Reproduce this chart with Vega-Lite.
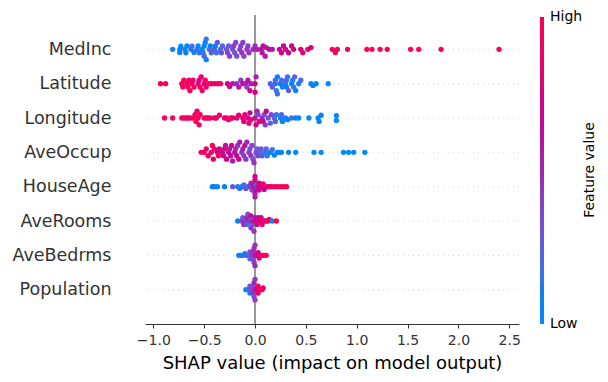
{
"$schema": "https://vega.github.io/schema/vega-lite/v6.json",
"width": 374, "height": 309,
"autosize": {"type": "none"},
"padding": {"left": 145, "top": 15, "right": 89, "bottom": 58},
"background": "white",
"config": {"view": {"stroke": null}, "font": "DejaVu Sans"},
"datasets": {
"features": [
{"feature":"MedInc"},{"feature":"Latitude"},{"feature":"Longitude"},{"feature":"AveOccup"},
{"feature":"HouseAge"},{"feature":"AveRooms"},{"feature":"AveBedrms"},{"feature":"Population"}
],
"pts": [
{"feature":"MedInc","shap":-0.81,"off":0,"val":0.08},
{"feature":"MedInc","shap":-0.74,"off":0,"val":0.05},
{"feature":"MedInc","shap":-0.74,"off":-0.09,"val":0.1},
{"feature":"MedInc","shap":-0.73,"off":0.09,"val":0.02},
{"feature":"MedInc","shap":-0.69,"off":0,"val":0.12},
{"feature":"MedInc","shap":-0.68,"off":-0.1,"val":0.08},
{"feature":"MedInc","shap":-0.67,"off":0.1,"val":0.04},
{"feature":"MedInc","shap":-0.63,"off":0,"val":0.1},
{"feature":"MedInc","shap":-0.62,"off":0.09,"val":0.2},
{"feature":"MedInc","shap":-0.6,"off":-0.09,"val":0.06},
{"feature":"MedInc","shap":-0.57,"off":0,"val":0.15},
{"feature":"MedInc","shap":-0.56,"off":0.1,"val":0.02},
{"feature":"MedInc","shap":-0.55,"off":-0.1,"val":0.18},
{"feature":"MedInc","shap":-0.52,"off":0,"val":0.05},
{"feature":"MedInc","shap":-0.51,"off":-0.1,"val":0.12},
{"feature":"MedInc","shap":-0.5,"off":0.1,"val":0.08},
{"feature":"MedInc","shap":-0.5,"off":-0.2,"val":0.22},
{"feature":"MedInc","shap":-0.49,"off":0.2,"val":0.03},
{"feature":"MedInc","shap":-0.48,"off":-0.3,"val":0.1},
{"feature":"MedInc","shap":-0.48,"off":0.3,"val":0.15},
{"feature":"MedInc","shap":-0.45,"off":0,"val":0.2},
{"feature":"MedInc","shap":-0.44,"off":0.1,"val":0.1},
{"feature":"MedInc","shap":-0.43,"off":-0.1,"val":0.25},
{"feature":"MedInc","shap":-0.4,"off":0,"val":0.3},
{"feature":"MedInc","shap":-0.39,"off":0.1,"val":0.07},
{"feature":"MedInc","shap":-0.38,"off":-0.1,"val":0.14},
{"feature":"MedInc","shap":-0.37,"off":0.2,"val":0.28},
{"feature":"MedInc","shap":-0.34,"off":0,"val":0.18},
{"feature":"MedInc","shap":-0.33,"off":-0.1,"val":0.32},
{"feature":"MedInc","shap":-0.32,"off":0.1,"val":0.22},
{"feature":"MedInc","shap":-0.28,"off":0,"val":0.3},
{"feature":"MedInc","shap":-0.27,"off":-0.1,"val":0.36},
{"feature":"MedInc","shap":-0.26,"off":0.1,"val":0.26},
{"feature":"MedInc","shap":-0.25,"off":-0.2,"val":0.4},
{"feature":"MedInc","shap":-0.22,"off":0,"val":0.35},
{"feature":"MedInc","shap":-0.21,"off":0.1,"val":0.42},
{"feature":"MedInc","shap":-0.2,"off":-0.1,"val":0.3},
{"feature":"MedInc","shap":-0.19,"off":0.2,"val":0.38},
{"feature":"MedInc","shap":-0.18,"off":-0.2,"val":0.33},
{"feature":"MedInc","shap":-0.15,"off":0,"val":0.4},
{"feature":"MedInc","shap":-0.14,"off":0.1,"val":0.36},
{"feature":"MedInc","shap":-0.13,"off":-0.1,"val":0.45},
{"feature":"MedInc","shap":-0.12,"off":0.2,"val":0.42},
{"feature":"MedInc","shap":-0.11,"off":-0.2,"val":0.38},
{"feature":"MedInc","shap":-0.08,"off":0,"val":0.44},
{"feature":"MedInc","shap":-0.07,"off":0.1,"val":0.4},
{"feature":"MedInc","shap":-0.06,"off":-0.1,"val":0.47},
{"feature":"MedInc","shap":-0.02,"off":0,"val":0.5},
{"feature":"MedInc","shap":0.0,"off":0.1,"val":0.45},
{"feature":"MedInc","shap":0.02,"off":0,"val":0.55},
{"feature":"MedInc","shap":0.06,"off":0,"val":0.6},
{"feature":"MedInc","shap":0.07,"off":-0.1,"val":0.58},
{"feature":"MedInc","shap":0.08,"off":0.1,"val":0.62},
{"feature":"MedInc","shap":0.1,"off":-0.2,"val":0.55},
{"feature":"MedInc","shap":0.11,"off":0.05,"val":0.6},
{"feature":"MedInc","shap":0.14,"off":0,"val":0.63},
{"feature":"MedInc","shap":0.17,"off":0,"val":0.58},
{"feature":"MedInc","shap":0.24,"off":0,"val":0.7},
{"feature":"MedInc","shap":0.26,"off":-0.1,"val":0.72},
{"feature":"MedInc","shap":0.28,"off":0.1,"val":0.66},
{"feature":"MedInc","shap":0.3,"off":0,"val":0.74},
{"feature":"MedInc","shap":0.33,"off":-0.1,"val":0.68},
{"feature":"MedInc","shap":0.36,"off":0.1,"val":0.7},
{"feature":"MedInc","shap":0.38,"off":0,"val":0.73},
{"feature":"MedInc","shap":0.45,"off":0,"val":0.78},
{"feature":"MedInc","shap":0.47,"off":-0.1,"val":0.8},
{"feature":"MedInc","shap":0.52,"off":0,"val":0.82},
{"feature":"MedInc","shap":0.55,"off":0.05,"val":0.76},
{"feature":"MedInc","shap":0.76,"off":0,"val":0.9},
{"feature":"MedInc","shap":0.79,"off":-0.09,"val":0.95},
{"feature":"MedInc","shap":0.81,"off":0,"val":0.92},
{"feature":"MedInc","shap":0.91,"off":0,"val":0.93},
{"feature":"MedInc","shap":1.1,"off":0,"val":0.97},
{"feature":"MedInc","shap":1.15,"off":0,"val":0.96},
{"feature":"MedInc","shap":1.23,"off":0,"val":0.98},
{"feature":"MedInc","shap":1.3,"off":0,"val":0.99},
{"feature":"MedInc","shap":1.53,"off":0,"val":0.99},
{"feature":"MedInc","shap":1.61,"off":0,"val":1.0},
{"feature":"MedInc","shap":1.83,"off":0,"val":1.0},
{"feature":"MedInc","shap":2.4,"off":0,"val":1.0},

{"feature":"Latitude","shap":-0.93,"off":0,"val":0.98},
{"feature":"Latitude","shap":-0.88,"off":0,"val":0.95},
{"feature":"Latitude","shap":-0.72,"off":0,"val":0.95},
{"feature":"Latitude","shap":-0.71,"off":-0.1,"val":0.9},
{"feature":"Latitude","shap":-0.7,"off":0.1,"val":0.97},
{"feature":"Latitude","shap":-0.67,"off":0,"val":0.92},
{"feature":"Latitude","shap":-0.66,"off":-0.1,"val":0.99},
{"feature":"Latitude","shap":-0.65,"off":0.1,"val":0.88},
{"feature":"Latitude","shap":-0.64,"off":-0.2,"val":0.94},
{"feature":"Latitude","shap":-0.62,"off":0,"val":0.9},
{"feature":"Latitude","shap":-0.61,"off":0.1,"val":0.85},
{"feature":"Latitude","shap":-0.6,"off":-0.1,"val":0.96},
{"feature":"Latitude","shap":-0.56,"off":0,"val":0.8},
{"feature":"Latitude","shap":-0.55,"off":0.1,"val":0.75},
{"feature":"Latitude","shap":-0.54,"off":-0.1,"val":0.93},
{"feature":"Latitude","shap":-0.53,"off":0.2,"val":0.86},
{"feature":"Latitude","shap":-0.52,"off":-0.2,"val":0.91},
{"feature":"Latitude","shap":-0.5,"off":0,"val":0.78},
{"feature":"Latitude","shap":-0.49,"off":0.1,"val":0.95},
{"feature":"Latitude","shap":-0.48,"off":-0.1,"val":0.88},
{"feature":"Latitude","shap":-0.45,"off":0,"val":0.92},
{"feature":"Latitude","shap":-0.43,"off":0,"val":0.85},
{"feature":"Latitude","shap":-0.4,"off":0,"val":0.9},
{"feature":"Latitude","shap":-0.37,"off":0,"val":0.88},
{"feature":"Latitude","shap":-0.34,"off":0,"val":0.93},
{"feature":"Latitude","shap":-0.27,"off":0,"val":0.75},
{"feature":"Latitude","shap":-0.25,"off":-0.08,"val":0.7},
{"feature":"Latitude","shap":-0.22,"off":0,"val":0.6},
{"feature":"Latitude","shap":-0.18,"off":0,"val":0.45},
{"feature":"Latitude","shap":-0.16,"off":-0.1,"val":0.55},
{"feature":"Latitude","shap":-0.14,"off":0.1,"val":0.4},
{"feature":"Latitude","shap":-0.12,"off":0,"val":0.65},
{"feature":"Latitude","shap":-0.09,"off":0,"val":0.5},
{"feature":"Latitude","shap":-0.08,"off":-0.1,"val":0.42},
{"feature":"Latitude","shap":-0.07,"off":0.1,"val":0.6},
{"feature":"Latitude","shap":-0.05,"off":-0.2,"val":0.75},
{"feature":"Latitude","shap":-0.04,"off":0,"val":0.55},
{"feature":"Latitude","shap":0.0,"off":0,"val":0.7},
{"feature":"Latitude","shap":0.0,"off":-0.25,"val":0.75},
{"feature":"Latitude","shap":0.01,"off":0.2,"val":0.5},
{"feature":"Latitude","shap":0.15,"off":0,"val":0.2},
{"feature":"Latitude","shap":0.17,"off":-0.1,"val":0.3},
{"feature":"Latitude","shap":0.2,"off":0,"val":0.1},
{"feature":"Latitude","shap":0.2,"off":0.1,"val":0.25},
{"feature":"Latitude","shap":0.21,"off":-0.2,"val":0.15},
{"feature":"Latitude","shap":0.22,"off":0.2,"val":0.05},
{"feature":"Latitude","shap":0.22,"off":-0.3,"val":0.18},
{"feature":"Latitude","shap":0.25,"off":0,"val":0.08},
{"feature":"Latitude","shap":0.26,"off":0.1,"val":0.2},
{"feature":"Latitude","shap":0.27,"off":-0.1,"val":0.02},
{"feature":"Latitude","shap":0.3,"off":0,"val":0.12},
{"feature":"Latitude","shap":0.31,"off":0.1,"val":0.22},
{"feature":"Latitude","shap":0.31,"off":-0.1,"val":0.06},
{"feature":"Latitude","shap":0.32,"off":0.2,"val":0.16},
{"feature":"Latitude","shap":0.33,"off":-0.2,"val":0.28},
{"feature":"Latitude","shap":0.36,"off":0,"val":0.1},
{"feature":"Latitude","shap":0.37,"off":0.1,"val":0.04},
{"feature":"Latitude","shap":0.38,"off":-0.1,"val":0.14},
{"feature":"Latitude","shap":0.39,"off":0.2,"val":0.24},
{"feature":"Latitude","shap":0.4,"off":-0.2,"val":0.08},
{"feature":"Latitude","shap":0.43,"off":0,"val":0.12},
{"feature":"Latitude","shap":0.45,"off":0.1,"val":0.18},
{"feature":"Latitude","shap":0.55,"off":0,"val":0.05},
{"feature":"Latitude","shap":0.57,"off":-0.05,"val":0.1},
{"feature":"Latitude","shap":0.6,"off":0,"val":0.02},
{"feature":"Latitude","shap":0.72,"off":0,"val":0.0},

{"feature":"Longitude","shap":-0.89,"off":0,"val":0.97},
{"feature":"Longitude","shap":-0.81,"off":0,"val":0.99},
{"feature":"Longitude","shap":-0.72,"off":0,"val":0.95},
{"feature":"Longitude","shap":-0.7,"off":0,"val":0.9},
{"feature":"Longitude","shap":-0.68,"off":0,"val":0.98},
{"feature":"Longitude","shap":-0.66,"off":0,"val":0.93},
{"feature":"Longitude","shap":-0.64,"off":0,"val":0.88},
{"feature":"Longitude","shap":-0.61,"off":0,"val":0.96},
{"feature":"Longitude","shap":-0.59,"off":0.1,"val":0.92},
{"feature":"Longitude","shap":-0.58,"off":-0.1,"val":0.99},
{"feature":"Longitude","shap":-0.57,"off":0.2,"val":0.85},
{"feature":"Longitude","shap":-0.56,"off":0,"val":0.94},
{"feature":"Longitude","shap":-0.55,"off":-0.2,"val":0.9},
{"feature":"Longitude","shap":-0.54,"off":0.1,"val":0.97},
{"feature":"Longitude","shap":-0.5,"off":0,"val":0.91},
{"feature":"Longitude","shap":-0.48,"off":0,"val":0.95},
{"feature":"Longitude","shap":-0.46,"off":0,"val":0.88},
{"feature":"Longitude","shap":-0.44,"off":0,"val":0.93},
{"feature":"Longitude","shap":-0.4,"off":0,"val":0.9},
{"feature":"Longitude","shap":-0.38,"off":0,"val":0.96},
{"feature":"Longitude","shap":-0.35,"off":0.08,"val":0.87},
{"feature":"Longitude","shap":-0.3,"off":0,"val":0.92},
{"feature":"Longitude","shap":-0.28,"off":0,"val":0.85},
{"feature":"Longitude","shap":-0.26,"off":-0.05,"val":0.9},
{"feature":"Longitude","shap":-0.24,"off":0,"val":0.94},
{"feature":"Longitude","shap":-0.22,"off":0,"val":0.82},
{"feature":"Longitude","shap":-0.18,"off":0,"val":0.88},
{"feature":"Longitude","shap":-0.16,"off":0.08,"val":0.8},
{"feature":"Longitude","shap":-0.12,"off":0,"val":0.85},
{"feature":"Longitude","shap":-0.11,"off":-0.1,"val":0.75},
{"feature":"Longitude","shap":-0.1,"off":0.1,"val":0.9},
{"feature":"Longitude","shap":-0.07,"off":0,"val":0.7},
{"feature":"Longitude","shap":-0.06,"off":-0.15,"val":0.8},
{"feature":"Longitude","shap":-0.05,"off":0.15,"val":0.65},
{"feature":"Longitude","shap":-0.04,"off":-0.05,"val":0.92},
{"feature":"Longitude","shap":0.0,"off":0,"val":0.6},
{"feature":"Longitude","shap":0.01,"off":-0.2,"val":0.75},
{"feature":"Longitude","shap":0.02,"off":0.2,"val":0.55},
{"feature":"Longitude","shap":0.03,"off":0.1,"val":0.4},
{"feature":"Longitude","shap":0.04,"off":-0.1,"val":0.85},
{"feature":"Longitude","shap":0.07,"off":0,"val":0.5},
{"feature":"Longitude","shap":0.08,"off":-0.1,"val":0.65},
{"feature":"Longitude","shap":0.09,"off":0.1,"val":0.35},
{"feature":"Longitude","shap":0.1,"off":-0.2,"val":0.45},
{"feature":"Longitude","shap":0.11,"off":0.2,"val":0.7},
{"feature":"Longitude","shap":0.13,"off":0,"val":0.3},
{"feature":"Longitude","shap":0.15,"off":-0.15,"val":0.25},
{"feature":"Longitude","shap":0.16,"off":0.1,"val":0.4},
{"feature":"Longitude","shap":0.19,"off":0,"val":0.2},
{"feature":"Longitude","shap":0.2,"off":-0.1,"val":0.28},
{"feature":"Longitude","shap":0.21,"off":0.1,"val":0.15},
{"feature":"Longitude","shap":0.25,"off":0,"val":0.1},
{"feature":"Longitude","shap":0.26,"off":0.1,"val":0.18},
{"feature":"Longitude","shap":0.27,"off":-0.1,"val":0.05},
{"feature":"Longitude","shap":0.3,"off":0,"val":0.12},
{"feature":"Longitude","shap":0.32,"off":-0.05,"val":0.08},
{"feature":"Longitude","shap":0.36,"off":0,"val":0.14},
{"feature":"Longitude","shap":0.4,"off":0,"val":0.1},
{"feature":"Longitude","shap":0.43,"off":0,"val":0.03},
{"feature":"Longitude","shap":0.53,"off":0,"val":0.05},
{"feature":"Longitude","shap":0.62,"off":0,"val":0.08},
{"feature":"Longitude","shap":0.63,"off":-0.1,"val":0.02},
{"feature":"Longitude","shap":0.65,"off":0.08,"val":0.1},
{"feature":"Longitude","shap":0.8,"off":-0.07,"val":0.0},
{"feature":"Longitude","shap":0.8,"off":0.07,"val":0.04},

{"feature":"AveOccup","shap":-0.53,"off":0,"val":0.97},
{"feature":"AveOccup","shap":-0.5,"off":0,"val":0.92},
{"feature":"AveOccup","shap":-0.48,"off":0.1,"val":0.88},
{"feature":"AveOccup","shap":-0.46,"off":-0.1,"val":0.95},
{"feature":"AveOccup","shap":-0.43,"off":0,"val":0.8},
{"feature":"AveOccup","shap":-0.42,"off":0.2,"val":0.98},
{"feature":"AveOccup","shap":-0.41,"off":-0.2,"val":0.85},
{"feature":"AveOccup","shap":-0.4,"off":0.1,"val":0.9},
{"feature":"AveOccup","shap":-0.37,"off":0,"val":0.75},
{"feature":"AveOccup","shap":-0.36,"off":-0.1,"val":0.95},
{"feature":"AveOccup","shap":-0.35,"off":0.1,"val":0.7},
{"feature":"AveOccup","shap":-0.32,"off":0,"val":0.7},
{"feature":"AveOccup","shap":-0.31,"off":-0.1,"val":0.65},
{"feature":"AveOccup","shap":-0.3,"off":0.1,"val":0.8},
{"feature":"AveOccup","shap":-0.29,"off":0.2,"val":0.6},
{"feature":"AveOccup","shap":-0.28,"off":-0.2,"val":0.72},
{"feature":"AveOccup","shap":-0.26,"off":0,"val":0.62},
{"feature":"AveOccup","shap":-0.25,"off":0.1,"val":0.55},
{"feature":"AveOccup","shap":-0.24,"off":-0.1,"val":0.68},
{"feature":"AveOccup","shap":-0.23,"off":0.2,"val":0.75},
{"feature":"AveOccup","shap":-0.22,"off":-0.25,"val":0.58},
{"feature":"AveOccup","shap":-0.2,"off":0,"val":0.6},
{"feature":"AveOccup","shap":-0.19,"off":0.1,"val":0.5},
{"feature":"AveOccup","shap":-0.18,"off":-0.1,"val":0.66},
{"feature":"AveOccup","shap":-0.17,"off":0.2,"val":0.48},
{"feature":"AveOccup","shap":-0.16,"off":-0.2,"val":0.7},
{"feature":"AveOccup","shap":-0.15,"off":0.3,"val":0.55},
{"feature":"AveOccup","shap":-0.13,"off":0,"val":0.45},
{"feature":"AveOccup","shap":-0.12,"off":0.1,"val":0.52},
{"feature":"AveOccup","shap":-0.11,"off":-0.1,"val":0.4},
{"feature":"AveOccup","shap":-0.1,"off":0.2,"val":0.6},
{"feature":"AveOccup","shap":-0.09,"off":-0.2,"val":0.44},
{"feature":"AveOccup","shap":-0.08,"off":0.3,"val":0.5},
{"feature":"AveOccup","shap":-0.06,"off":0,"val":0.42},
{"feature":"AveOccup","shap":-0.05,"off":0.1,"val":0.35},
{"feature":"AveOccup","shap":-0.04,"off":-0.1,"val":0.48},
{"feature":"AveOccup","shap":-0.03,"off":0.2,"val":0.38},
{"feature":"AveOccup","shap":-0.02,"off":-0.2,"val":0.3},
{"feature":"AveOccup","shap":-0.01,"off":-0.3,"val":0.45},
{"feature":"AveOccup","shap":0.01,"off":0,"val":0.35},
{"feature":"AveOccup","shap":0.02,"off":0.1,"val":0.28},
{"feature":"AveOccup","shap":0.03,"off":-0.1,"val":0.4},
{"feature":"AveOccup","shap":0.05,"off":0,"val":0.25},
{"feature":"AveOccup","shap":0.06,"off":0.1,"val":0.3},
{"feature":"AveOccup","shap":0.07,"off":-0.1,"val":0.2},
{"feature":"AveOccup","shap":0.1,"off":0,"val":0.18},
{"feature":"AveOccup","shap":0.11,"off":0.1,"val":0.22},
{"feature":"AveOccup","shap":0.12,"off":-0.1,"val":0.12},
{"feature":"AveOccup","shap":0.15,"off":0,"val":0.1},
{"feature":"AveOccup","shap":0.17,"off":0.08,"val":0.15},
{"feature":"AveOccup","shap":0.19,"off":-0.08,"val":0.08},
{"feature":"AveOccup","shap":0.22,"off":0,"val":0.06},
{"feature":"AveOccup","shap":0.24,"off":0,"val":0.1},
{"feature":"AveOccup","shap":0.26,"off":0,"val":0.04},
{"feature":"AveOccup","shap":0.33,"off":0,"val":0.05},
{"feature":"AveOccup","shap":0.4,"off":0,"val":0.02},
{"feature":"AveOccup","shap":0.58,"off":0,"val":0.03},
{"feature":"AveOccup","shap":0.65,"off":0,"val":0.0},
{"feature":"AveOccup","shap":0.87,"off":0,"val":0.02},
{"feature":"AveOccup","shap":0.92,"off":0,"val":0.0},
{"feature":"AveOccup","shap":0.97,"off":0,"val":0.01},
{"feature":"AveOccup","shap":1.08,"off":0,"val":0.0},

{"feature":"HouseAge","shap":-0.42,"off":0,"val":0.05},
{"feature":"HouseAge","shap":-0.4,"off":0,"val":0.1},
{"feature":"HouseAge","shap":-0.37,"off":0,"val":0.02},
{"feature":"HouseAge","shap":-0.3,"off":0,"val":0.08},
{"feature":"HouseAge","shap":-0.22,"off":0,"val":0.3},
{"feature":"HouseAge","shap":-0.17,"off":0,"val":0.1},
{"feature":"HouseAge","shap":-0.15,"off":-0.05,"val":0.2},
{"feature":"HouseAge","shap":-0.13,"off":0,"val":0.05},
{"feature":"HouseAge","shap":-0.11,"off":0.05,"val":0.15},
{"feature":"HouseAge","shap":-0.09,"off":-0.05,"val":0.4},
{"feature":"HouseAge","shap":-0.07,"off":0,"val":0.12},
{"feature":"HouseAge","shap":-0.05,"off":0,"val":0.45},
{"feature":"HouseAge","shap":-0.04,"off":0.1,"val":0.5},
{"feature":"HouseAge","shap":-0.03,"off":-0.1,"val":0.3},
{"feature":"HouseAge","shap":-0.01,"off":0,"val":0.6},
{"feature":"HouseAge","shap":0.0,"off":0.1,"val":0.65},
{"feature":"HouseAge","shap":0.0,"off":-0.1,"val":0.55},
{"feature":"HouseAge","shap":0.0,"off":0.2,"val":0.7},
{"feature":"HouseAge","shap":0.0,"off":-0.2,"val":0.6},
{"feature":"HouseAge","shap":0.0,"off":0.3,"val":0.75},
{"feature":"HouseAge","shap":0.0,"off":-0.3,"val":0.5},
{"feature":"HouseAge","shap":0.01,"off":0.05,"val":0.2},
{"feature":"HouseAge","shap":0.03,"off":0,"val":0.7},
{"feature":"HouseAge","shap":0.04,"off":0.1,"val":0.8},
{"feature":"HouseAge","shap":0.04,"off":-0.1,"val":0.65},
{"feature":"HouseAge","shap":0.07,"off":0,"val":0.75},
{"feature":"HouseAge","shap":0.08,"off":0.08,"val":0.85},
{"feature":"HouseAge","shap":0.09,"off":-0.08,"val":0.7},
{"feature":"HouseAge","shap":0.12,"off":0,"val":0.8},
{"feature":"HouseAge","shap":0.14,"off":0,"val":0.9},
{"feature":"HouseAge","shap":0.16,"off":0,"val":0.85},
{"feature":"HouseAge","shap":0.19,"off":0,"val":0.95},
{"feature":"HouseAge","shap":0.22,"off":0,"val":0.9},
{"feature":"HouseAge","shap":0.25,"off":0,"val":0.98},
{"feature":"HouseAge","shap":0.28,"off":0,"val":0.95},
{"feature":"HouseAge","shap":0.31,"off":0,"val":1.0},

{"feature":"AveRooms","shap":-0.17,"off":0,"val":0.05},
{"feature":"AveRooms","shap":-0.13,"off":0,"val":0.4},
{"feature":"AveRooms","shap":-0.12,"off":0.1,"val":0.3},
{"feature":"AveRooms","shap":-0.11,"off":-0.1,"val":0.5},
{"feature":"AveRooms","shap":-0.09,"off":0,"val":0.45},
{"feature":"AveRooms","shap":-0.08,"off":0.1,"val":0.55},
{"feature":"AveRooms","shap":-0.08,"off":-0.1,"val":0.2},
{"feature":"AveRooms","shap":-0.07,"off":0.2,"val":0.35},
{"feature":"AveRooms","shap":-0.05,"off":0,"val":0.4},
{"feature":"AveRooms","shap":-0.04,"off":-0.2,"val":0.5},
{"feature":"AveRooms","shap":-0.04,"off":0.15,"val":0.6},
{"feature":"AveRooms","shap":-0.03,"off":-0.1,"val":0.3},
{"feature":"AveRooms","shap":-0.02,"off":0,"val":0.55},
{"feature":"AveRooms","shap":-0.01,"off":-0.3,"val":0.45},
{"feature":"AveRooms","shap":0.0,"off":0.1,"val":0.6},
{"feature":"AveRooms","shap":0.01,"off":0,"val":0.7},
{"feature":"AveRooms","shap":0.02,"off":-0.1,"val":0.75},
{"feature":"AveRooms","shap":0.03,"off":0.1,"val":0.65},
{"feature":"AveRooms","shap":0.05,"off":0,"val":0.8},
{"feature":"AveRooms","shap":0.06,"off":0.1,"val":0.72},
{"feature":"AveRooms","shap":0.07,"off":-0.1,"val":0.85},
{"feature":"AveRooms","shap":0.09,"off":0,"val":0.9},
{"feature":"AveRooms","shap":0.11,"off":0,"val":0.85},
{"feature":"AveRooms","shap":0.13,"off":0,"val":0.95},
{"feature":"AveRooms","shap":0.14,"off":0.05,"val":0.9},
{"feature":"AveRooms","shap":0.17,"off":0,"val":0.05},
{"feature":"AveRooms","shap":0.21,"off":0,"val":1.0},

{"feature":"AveBedrms","shap":-0.16,"off":0,"val":0.05},
{"feature":"AveBedrms","shap":-0.14,"off":0,"val":0.1},
{"feature":"AveBedrms","shap":-0.13,"off":0,"val":0.02},
{"feature":"AveBedrms","shap":-0.11,"off":0,"val":0.15},
{"feature":"AveBedrms","shap":-0.1,"off":0.05,"val":0.08},
{"feature":"AveBedrms","shap":-0.08,"off":0,"val":0.2},
{"feature":"AveBedrms","shap":-0.06,"off":0,"val":0.3},
{"feature":"AveBedrms","shap":-0.05,"off":-0.1,"val":0.2},
{"feature":"AveBedrms","shap":-0.05,"off":0.1,"val":0.35},
{"feature":"AveBedrms","shap":-0.03,"off":0,"val":0.4},
{"feature":"AveBedrms","shap":-0.02,"off":0.1,"val":0.45},
{"feature":"AveBedrms","shap":-0.02,"off":-0.1,"val":0.35},
{"feature":"AveBedrms","shap":-0.01,"off":0.2,"val":0.5},
{"feature":"AveBedrms","shap":-0.01,"off":-0.2,"val":0.4},
{"feature":"AveBedrms","shap":0.0,"off":0,"val":0.55},
{"feature":"AveBedrms","shap":0.0,"off":0.3,"val":0.45},
{"feature":"AveBedrms","shap":0.0,"off":-0.3,"val":0.5},
{"feature":"AveBedrms","shap":0.02,"off":0,"val":0.7},
{"feature":"AveBedrms","shap":0.03,"off":0.08,"val":0.75},
{"feature":"AveBedrms","shap":0.04,"off":-0.08,"val":0.8},
{"feature":"AveBedrms","shap":0.06,"off":0,"val":0.85},
{"feature":"AveBedrms","shap":0.08,"off":0,"val":0.9},
{"feature":"AveBedrms","shap":0.1,"off":0,"val":0.95},
{"feature":"AveBedrms","shap":0.11,"off":0,"val":1.0},

{"feature":"Population","shap":-0.09,"off":0,"val":0.05},
{"feature":"Population","shap":-0.06,"off":0,"val":0.2},
{"feature":"Population","shap":-0.05,"off":0.1,"val":0.35},
{"feature":"Population","shap":-0.05,"off":-0.1,"val":0.1},
{"feature":"Population","shap":-0.03,"off":0,"val":0.4},
{"feature":"Population","shap":-0.02,"off":0.1,"val":0.3},
{"feature":"Population","shap":-0.02,"off":-0.1,"val":0.45},
{"feature":"Population","shap":-0.01,"off":0.2,"val":0.5},
{"feature":"Population","shap":-0.01,"off":-0.2,"val":0.35},
{"feature":"Population","shap":0.0,"off":0,"val":0.55},
{"feature":"Population","shap":0.0,"off":0.3,"val":0.45},
{"feature":"Population","shap":0.0,"off":-0.3,"val":0.4},
{"feature":"Population","shap":0.02,"off":0,"val":0.8},
{"feature":"Population","shap":0.03,"off":0.1,"val":0.9},
{"feature":"Population","shap":0.03,"off":-0.1,"val":0.85},
{"feature":"Population","shap":0.05,"off":0,"val":0.95},
{"feature":"Population","shap":0.07,"off":0,"val":1.0},
{"feature":"Population","shap":0.08,"off":0.05,"val":0.9}
]
},
"layer": [
{
"data": {"name": "features"},
"mark": {"type": "rule", "color": "#cccccc", "strokeWidth": 0.8, "strokeDash": [1, 4]},
"encoding": {
"y": {"field": "feature", "type": "nominal",
 "sort": ["MedInc", "Latitude", "Longitude", "AveOccup", "HouseAge", "AveRooms", "AveBedrms", "Population"],
 "scale": {"type": "point", "padding": 1},
 "axis": {"orient": "right", "title": "Feature value", "titleAngle": 270, "titleBaseline": "top", "titleFontSize": 14,
  "titleFontWeight": "normal", "titleColor": "#000000", "titlePadding": 63,
  "labels": false, "ticks": false, "domain": false, "grid": false}}
}
},
{
"data": {"values": [{"zero": 0}]},
"mark": {"type": "rule", "color": "#999999", "strokeWidth": 2},
"encoding": {"x": {"field": "zero", "type": "quantitative", "scale": {"domain": [-1.082, 2.596], "nice": false, "zero": false}}}
},
{
"data": {"name": "pts"},
"mark": {"type": "point", "filled": true, "size": 28, "opacity": 1, "strokeWidth": 0},
"encoding": {
"x": {"field": "shap", "type": "quantitative",
 "scale": {"domain": [-1.082, 2.596], "nice": false, "zero": false},
 "axis": {"values": [-1, -0.5, 0, 0.5, 1, 1.5, 2, 2.5], "format": ".1f", "grid": false,
  "title": "SHAP value (impact on model output)", "titleFontSize": 18, "titleFontWeight": "normal", "titleColor": "#000000", "titlePadding": 7,
  "labelFontSize": 14, "labelColor": "#333333", "labelFlush": false, "labelPadding": 5,
  "tickColor": "#333333", "tickSize": 4, "tickWidth": 1, "domainColor": "#333333", "domainWidth": 1}},
"y": {"field": "feature", "type": "nominal",
 "sort": ["MedInc", "Latitude", "Longitude", "AveOccup", "HouseAge", "AveRooms", "AveBedrms", "Population"],
 "scale": {"type": "point", "padding": 1},
 "axis": {"orient": "left", "title": null, "ticks": false, "domain": false, "labelPadding": 34, "labelFontSize": 17.5, "labelColor": "#333333", "grid": false}},
"yOffset": {"field": "off", "type": "quantitative", "scale": {"domain": [-0.5, 0.5], "range": [17.17, -17.17]}},
"color": {"field": "val", "type": "quantitative",
 "scale": {"domain": [0, 0.1, 0.2, 0.3, 0.4, 0.5, 0.6, 0.7, 0.8, 0.9, 1],
  "range": ["#008bfb", "#0a80f5", "#4a68e6", "#6d55d8", "#8840c8", "#a225b5", "#b812a2", "#cc068c", "#e00478", "#f00265", "#ff0051"]},
 "legend": {"orient": "none", "legendX": 395, "legendY": 2, "direction": "vertical", "padding": 0,
  "gradientLength": 307, "gradientThickness": 4, "gradientStrokeWidth": 0,
  "values": [0.001, 0.999], "labelExpr": "datum.value < 0.5 ? 'Low' : 'High'",
  "labelFontSize": 14, "labelColor": "#000000", "labelOffset": 6, "labelOverlap": false,
  "title": null}}
}
}
]
}
